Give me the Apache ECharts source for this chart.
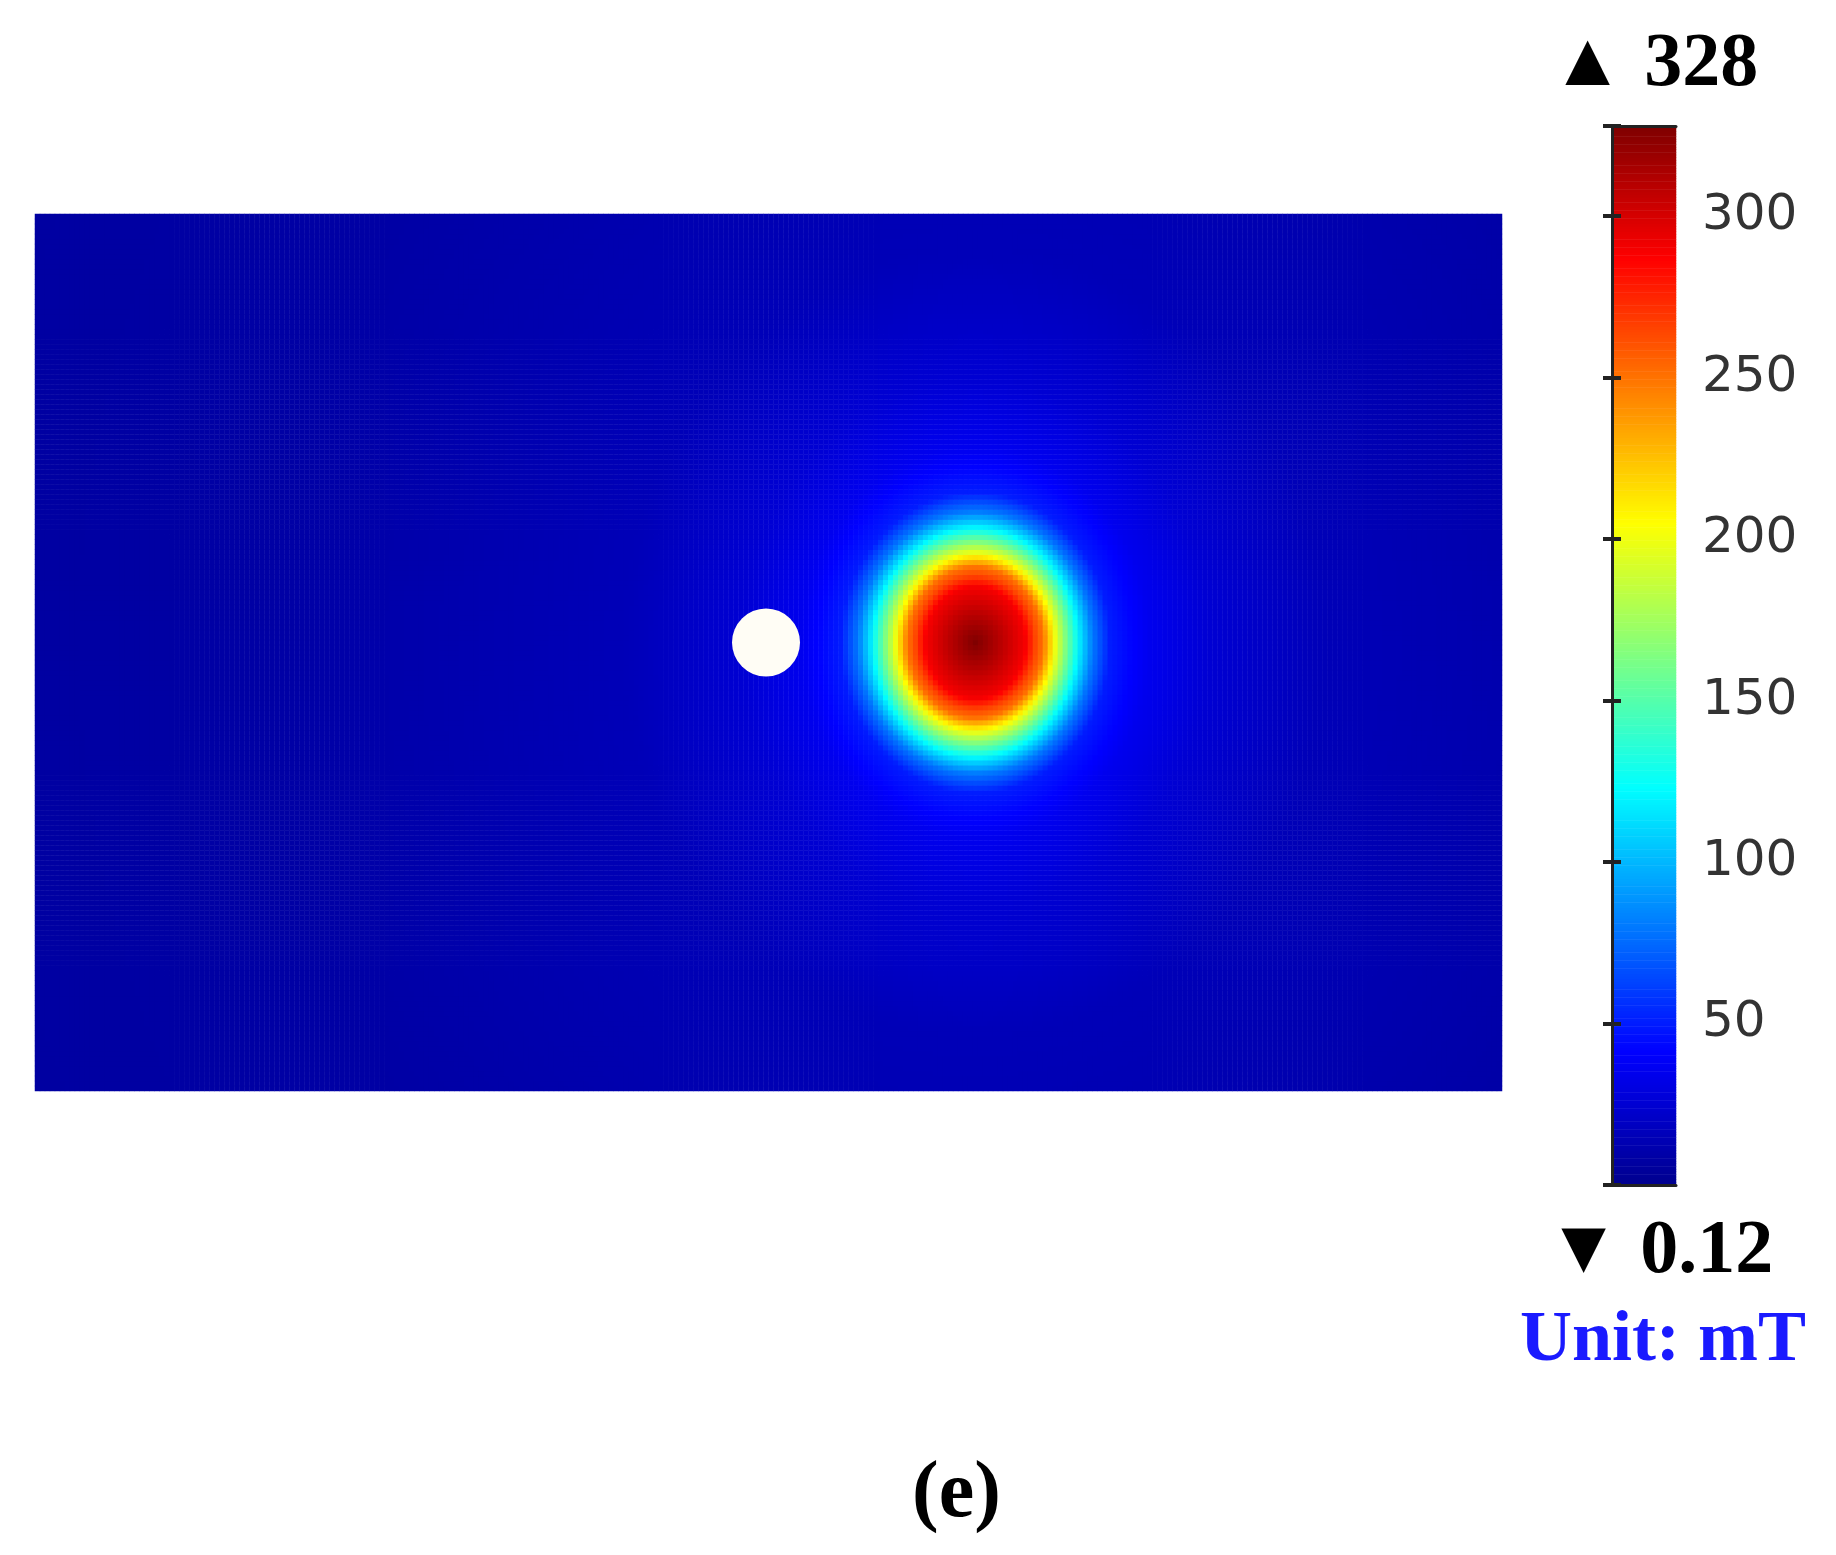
<!DOCTYPE html>
<html><head><meta charset="utf-8">
<script src="https://cdn.jsdelivr.net/npm/echarts@6/dist/echarts.min.js"></script>
<style>html,body{margin:0;padding:0;background:#fff}#c{width:1836px;height:1555px}</style>
</head><body><div id="c"></div>
<script>
// Field grid size (cells)
const NX = 294, NY = 175;
// Hot spot centre (cell index, y counted from bottom) and magnet dot position
const hotCenter = [188, 89];
const dotCell = [146, 89];
// Radial profile: distance (cells) -> field (mT)
const profileR = [0, 5, 10, 12, 13.6, 16, 18.3, 21, 23.5, 27, 35, 47, 70, 140, 300];
const profileV = [328, 310, 290, 265, 250, 200, 160, 115, 80, 50, 35, 25, 15, 8, 5];
const colorbarTicks = [50, 100, 150, 200, 250, 300];
const vMin = 0.12, vMax = 328;

function lookup(r){
  for(let i=1;i<profileR.length;i++){
    if(r<=profileR[i]){const t=(r-profileR[i-1])/(profileR[i]-profileR[i-1]);return profileV[i-1]+t*(profileV[i]-profileV[i-1]);}
  }
  return profileV[profileV.length-1];
}
const field=[];
for(let i=0;i<NX;i++)for(let j=0;j<NY;j++){
  const dx=i-hotCenter[0], dy=(j-hotCenter[1])*0.9;
  field.push([i,j,lookup(Math.sqrt(dx*dx+dy*dy))]);
}
const barCats=[],barData=[];
for(let k=0;k<=400;k++){barCats.push(k);barData.push([0,k,vMin+(vMax-vMin)*k/400]);}
const xc=[],yc=[];for(let i=0;i<NX;i++)xc.push(i);for(let j=0;j<NY;j++)yc.push(j);

const chart=echarts.init(document.getElementById('c'));
const axisTick={show:true,inside:true,length:9,lineStyle:{color:'#222',width:4}};
const line={show:true,lineStyle:{color:'#222',width:3}};
chart.setOption({
  animation:false,
  grid:[
    {left:35,top:214,width:1467,height:877},
    {left:1612,top:126,width:64,height:1059},
    {left:1612,top:126,width:64,height:1059}
  ],
  xAxis:[
    {type:'category',data:xc,gridIndex:0,show:false},
    {type:'category',data:[0],gridIndex:1,show:false},
    {type:'value',gridIndex:2,min:0,max:1,position:'top',zlevel:1,axisLine:line,axisTick:{show:false},axisLabel:{show:false},splitLine:{show:false}},
    {type:'value',gridIndex:2,min:0,max:1,position:'bottom',zlevel:1,axisLine:line,axisTick:{show:false},axisLabel:{show:false},splitLine:{show:false}}
  ],
  yAxis:[
    {type:'category',data:yc,gridIndex:0,show:false},
    {type:'category',data:barCats,gridIndex:1,show:false},
    {type:'value',gridIndex:2,min:vMin,max:vMax,position:'right',interval:50,zlevel:1,
     axisLine:line,axisTick:axisTick,splitLine:{show:false},
     axisLabel:{color:'#333',fontSize:50,fontFamily:'DejaVu Sans',margin:26,
       formatter:v=>colorbarTicks.includes(Math.round(v))?String(Math.round(v)):''}},
    {type:'value',gridIndex:2,min:vMin,max:vMax,position:'left',interval:50,zlevel:1,
     axisLine:line,axisTick:axisTick,splitLine:{show:false},axisLabel:{show:false}}
  ],
  visualMap:{show:false,min:vMin,max:vMax,seriesIndex:[0,1],dimension:2,
    inRange:{color:['#00008f','#0000ff','#0080ff','#00ffff','#80ff80','#ffff00','#ff8000','#ff0000','#800000']}},
  series:[
    {type:'heatmap',xAxisIndex:0,yAxisIndex:0,data:field,progressive:0},
    {type:'heatmap',xAxisIndex:1,yAxisIndex:1,data:barData,progressive:0},
    {type:'scatter',xAxisIndex:0,yAxisIndex:0,data:[dotCell],symbolSize:68,
     itemStyle:{color:'#fffdf5',opacity:1},silent:true,z:5}
  ],
  graphic:[
    {type:'text',left:1550,top:27,style:{text:'▲ 328',fontSize:76,fontWeight:'bold',fontFamily:'Liberation Serif',fill:'#000'}},
    {type:'text',left:1546,top:1214,style:{text:'▼ 0.12',fontSize:76,fontWeight:'bold',fontFamily:'Liberation Serif',fill:'#000'}},
    {type:'text',left:1520,top:1305,style:{text:'Unit: mT',fontSize:72,fontWeight:'bold',fontFamily:'Liberation Serif',fill:'#1a1aff'}},
    {type:'text',left:912,top:1455,style:{text:'(e)',fontSize:80,fontWeight:'bold',fontFamily:'Liberation Serif',fill:'#000'}}
  ]
});
</script></body></html>
